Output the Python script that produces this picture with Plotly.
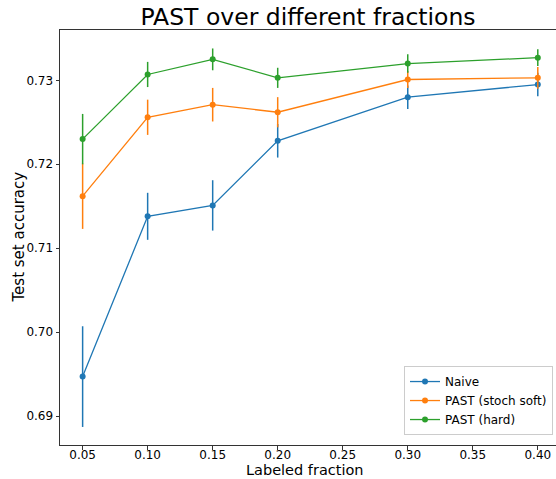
import plotly.graph_objects as go

fractions = [0.05, 0.10, 0.15, 0.20, 0.30, 0.40]

naive_mean = [0.6947, 0.7138, 0.7151, 0.7228, 0.7280, 0.7295]
naive_err = [0.0060, 0.0028, 0.0030, 0.0020, 0.0014, 0.0014]

soft_mean = [0.7162, 0.7256, 0.7271, 0.7262, 0.7301, 0.7303]
soft_err = [0.0039, 0.0021, 0.0020, 0.0018, 0.0010, 0.0013]

hard_mean = [0.7230, 0.7307, 0.7325, 0.7303, 0.7320, 0.7327]
hard_err = [0.0030, 0.0015, 0.0013, 0.0012, 0.0011, 0.0010]

series = [
    ("Naive", naive_mean, naive_err, "#1f77b4"),
    ("PAST (stoch soft)", soft_mean, soft_err, "#ff7f0e"),
    ("PAST (hard)", hard_mean, hard_err, "#2ca02c"),
]

x_ticks = [0.05, 0.10, 0.15, 0.20, 0.25, 0.30, 0.35, 0.40]
y_ticks = [0.69, 0.70, 0.71, 0.72, 0.73]

fig = go.Figure()
for name, mean, err, color in series:
    fig.add_trace(go.Scatter(
        x=fractions, y=mean, name=name, mode="lines+markers",
        line=dict(color=color, width=1.3),
        marker=dict(color=color, size=6),
        error_y=dict(type="data", array=err, visible=True, color=color,
                     thickness=1.5, width=0),
    ))

font_family = "DejaVu Sans"
fig.update_layout(
    width=556, height=479,
    margin=dict(l=60, r=0, t=30, b=34),
    paper_bgcolor="white", plot_bgcolor="white",
    font=dict(family=font_family, size=12, color="black"),
    title=dict(text="PAST over different fractions", x=0.5, xanchor="center",
               xref="paper", y=0.965, yanchor="middle",
               font=dict(size=23.5, family=font_family, color="black")),
    showlegend=True,
    legend=dict(x=0.994, y=0.024, xanchor="right", yanchor="bottom",
                bgcolor="rgba(255,255,255,0.8)", bordercolor="#cccccc",
                borderwidth=1, font=dict(size=12, family=font_family),
                tracegroupgap=0, itemwidth=30),
    annotations=[
        dict(text="Labeled fraction", xref="paper", yref="paper",
             x=(305 - 60) / 496, y=-(470 - 445) / 415,
             xanchor="center", yanchor="middle", showarrow=False,
             font=dict(size=14.5, family=font_family, color="black")),
        dict(text="Test set accuracy", xref="paper", yref="paper",
             x=-(60 - 18) / 496, y=0.5, textangle=-90,
             xanchor="center", yanchor="middle", showarrow=False,
             font=dict(size=15, family=font_family, color="black")),
    ],
)
fig.update_xaxes(
    range=[0.0326, 0.414], tickvals=x_ticks, ticktext=[f"{v:.2f}" for v in x_ticks],
    showgrid=False, zeroline=False, showline=True, linecolor="#333333", linewidth=1,
    mirror=True, ticks="outside", ticklen=3.5, tickcolor="#333333",
    ticklabelstandoff=-5,
)
fig.update_yaxes(
    range=[0.68655, 0.7360], tickvals=y_ticks, ticktext=[f"{v:.2f}" for v in y_ticks],
    showgrid=False, zeroline=False, showline=True, linecolor="#333333", linewidth=1,
    ticks="outside", ticklen=3.5, tickcolor="#333333",
)

fig.write_html("out.html")
